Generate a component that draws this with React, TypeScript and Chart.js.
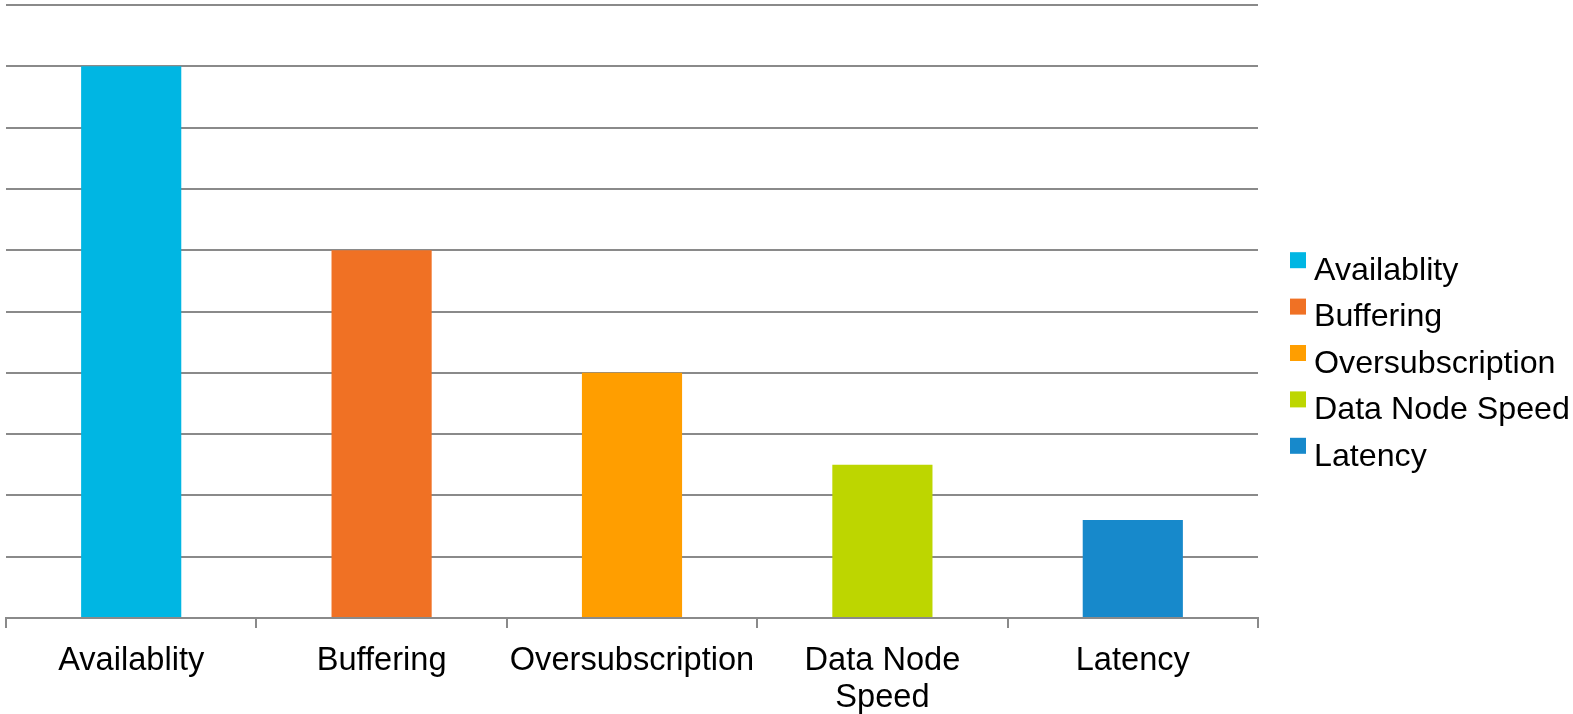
import React, { useEffect, useRef } from 'react';
import { Chart, registerables } from 'chart.js';

Chart.register(...registerables);

// Categories along the x axis (multi-line labels as arrays)
const categories: (string | string[])[] = [
  'Availablity',
  'Buffering',
  'Oversubscription',
  ['Data Node', 'Speed'],
  'Latency',
];

// Names shown in the side legend, one per bar
const legendLabels: string[] = [
  'Availablity',
  'Buffering',
  'Oversubscription',
  'Data Node Speed',
  'Latency',
];

// Bar heights
const values: number[] = [9, 6, 4, 2.5, 1.6];

// Bar fill colours
const barColors: string[] = ['#00B6E3', '#F07124', '#FF9E00', '#BDD600', '#1789CB'];

// Value axis range
const yMin = 0;
const yMax = 10;
const yStep = 1;

const FONT_FAMILY = '"Liberation Sans", Arial, Helvetica, sans-serif';
const AXIS_FONT_SIZE = 32.6;
const LEGEND_FONT_SIZE = 32.2;
const GRID_COLOR = '#8A8A8A';

// Legend drawn to the right of the plot, vertically centred on the canvas
const sideLegend = {
  id: 'sideLegend',
  afterDraw(chart: Chart) {
    const { ctx, chartArea } = chart;
    const x0 = chartArea.right + 32;
    const midY = chart.height / 2;
    const spacing = 46.4;
    const n = legendLabels.length;
    ctx.save();
    ctx.font = `${LEGEND_FONT_SIZE}px ${FONT_FAMILY}`;
    ctx.textBaseline = 'middle';
    ctx.textAlign = 'left';
    legendLabels.forEach((label, i) => {
      const y = midY + (i - (n - 1) / 2) * spacing;
      ctx.fillStyle = barColors[i];
      ctx.fillRect(x0, y - 12, 16, 16);
      ctx.fillStyle = '#000000';
      ctx.fillText(label, x0 + 24, y + 7);
    });
    ctx.restore();
  },
};

export default function App() {
  const canvasRef = useRef<HTMLCanvasElement | null>(null);

  useEffect(() => {
    if (!canvasRef.current) return;
    const chart = new Chart(canvasRef.current, {
      type: 'bar',
      data: {
        labels: categories,
        datasets: [
          {
            label: 'Values',
            data: values,
            backgroundColor: barColors,
            borderWidth: 0,
            categoryPercentage: 0.8,
            barPercentage: 0.5,
          },
        ],
      },
      options: {
        animation: false,
        responsive: true,
        maintainAspectRatio: false,
        layout: { padding: { left: 6, right: 315, top: 5, bottom: 0 } },
        plugins: {
          legend: { display: false },
          tooltip: { enabled: false },
          title: { display: false },
        },
        scales: {
          x: {
            afterFit(scale: any) {
              // keep the category axis tight to the bottom edge
              scale.height = 96;
            },
            grid: {
              display: true,
              drawOnChartArea: false,
              drawTicks: true,
              tickLength: 10,
              color: GRID_COLOR,
              lineWidth: 2,
              offset: true,
            },
            border: { display: true, color: GRID_COLOR, width: 2 },
            ticks: {
              color: '#000000',
              font: { family: FONT_FAMILY, size: AXIS_FONT_SIZE, lineHeight: 1.12 },
              padding: 15,
              maxRotation: 0,
              minRotation: 0,
              autoSkip: false,
            },
          },
          y: {
            min: yMin,
            max: yMax,
            grid: {
              color: GRID_COLOR,
              lineWidth: 2,
              drawTicks: false,
            },
            border: { display: false },
            ticks: { display: false, stepSize: yStep },
          },
        },
      },
      plugins: [sideLegend],
    });
    return () => chart.destroy();
  }, []);

  return (
    <div style={{ position: 'fixed', left: 0, top: 0, width: 1573, height: 714, background: '#ffffff' }}>
      <canvas ref={canvasRef} />
    </div>
  );
}
